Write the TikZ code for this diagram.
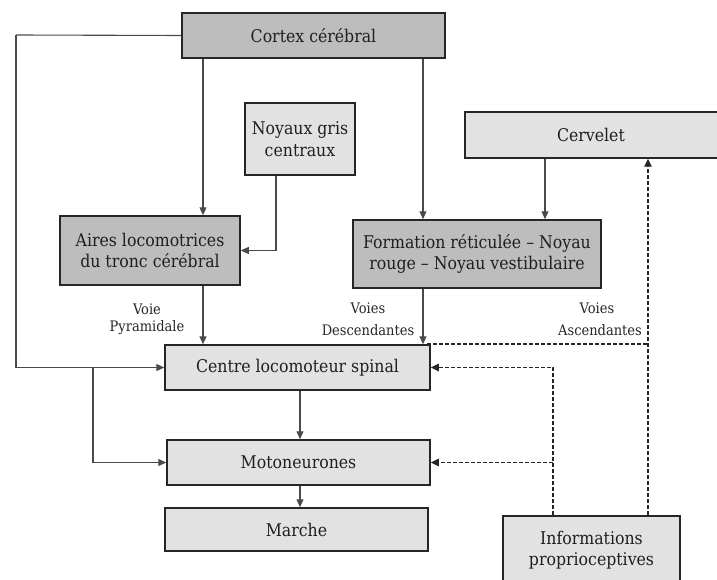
\documentclass[tikz,border=0pt]{standalone}
\usepackage{fontspec}
\setmainfont{DejaVu Serif Condensed}
\usetikzlibrary{arrows.meta,calc}
\definecolor{darkbox}{HTML}{BDBDBD}
\definecolor{lightbox}{HTML}{E2E2E2}
\definecolor{linegray}{HTML}{4A4A4A}
\begin{document}
\begin{tikzpicture}[x=1pt,y=-1pt,
  box/.style={draw=black!85,line width=1.5pt,align=center,inner sep=2pt,font=\fontsize{17.5}{21.5}\selectfont,text=black!88},
  darkb/.style={box,fill=darkbox},
  lightb/.style={box,fill=lightbox},
  arr/.style={draw=linegray,line width=1.1pt,-{Triangle[width=7pt,length=8pt]}},
  plain/.style={draw=linegray,line width=1.1pt},
  darr/.style={draw=black!85,line width=1.6pt,dash pattern=on 4pt off 2pt,-{Triangle[width=7.5pt,length=8pt]}},
  dplain/.style={draw=black!85,line width=1.6pt,dash pattern=on 4pt off 2pt},
  lab/.style={font=\fontsize{14.5}{17}\selectfont,text=black!85,inner sep=0pt}]
\useasboundingbox (0,0) rectangle (717,580);
\fill[white] (0,0) rectangle (717,580);

\node[darkb,minimum width=263pt,minimum height=45pt] (cortex) at (313.5,35.5) {Cortex cérébral};
\node[lightb,minimum width=110pt,minimum height=72pt] (noyaux) at (300,139) {Noyaux gris\\centraux};
\node[darkb,minimum width=180pt,minimum height=69pt] (aires) at (150,250.5) {Aires locomotrices\\du tronc cérébral};
\node[darkb,minimum width=248pt,minimum height=68pt] (form) at (477,254) {Formation réticulée – Noyau\\rouge – Noyau vestibulaire};
\node[lightb,minimum width=262pt,minimum height=46pt] (cerv) at (596,135) {};
\node[font=\fontsize{17.5}{21.5}\selectfont,text=black!88] (cervt) at (591,135) {Cervelet};
\node[lightb,minimum width=265pt,minimum height=45pt] (centre) at (297.5,367.5) {Centre locomoteur spinal};
\node[lightb,minimum width=263pt,minimum height=45pt] (moto) at (298.5,462.5) {Motoneurones};
\node[lightb,minimum width=263pt,minimum height=43pt] (marche) at (296.5,529.5) {Marche};
\node[lightb,minimum width=177pt,minimum height=68pt] (info) at (591.5,550) {Informations\\proprioceptives};

\node[lab] (l1) at (147,309) {Voie};
\node[lab] (l2) at (147,328) {Pyramidale};
\node[lab] (l3) at (368,308) {Voies};
\node[lab] (l4) at (368,330) {Descendantes};
\node[lab] (l5) at (597,308) {Voies};
\node[lab] (l6) at (600,330) {Ascendantes};

\coordinate (L1) at (16,35);
\coordinate (B) at (93,367.5);
\coordinate (a1) at (203,0);
\coordinate (f1) at (423,0);
\coordinate (n1) at (276,0);
\coordinate (c1) at (545,0);
\coordinate (m1) at (300,0);
\coordinate (v1) at (553,0);
\coordinate (v2) at (648,0);

\draw[plain] (cortex.west) -- (L1);
\draw[arr] (L1) |- (centre.west);
\draw[arr] (B) |- (moto.west);
\draw[arr] (cortex.south -| a1) -- (aires.north -| a1);
\draw[arr] (cortex.south -| f1) -- (form.north -| f1);
\draw[arr] (noyaux.south -| n1) |- (aires.east);
\draw[arr] (cerv.south -| c1) -- (form.north -| c1);
\draw[arr] (aires.south -| a1) -- (centre.north -| a1);
\draw[arr] (form.south -| f1) -- (centre.north -| f1);
\draw[arr] (centre.south -| m1) -- (moto.north -| m1);
\draw[arr] (moto.south -| m1) -- (marche.north -| m1);

\draw[darr] (info.north -| v2) -- (cerv.south -| v2);
\draw[dplain] (centre.north -| f1) ++(4,0) -- (centre.north -| v2);
\draw[darr] (info.north -| v1) |- (centre.east);
\draw[darr] (moto.east -| v1) -- (moto.east);
\end{tikzpicture}
\end{document}
